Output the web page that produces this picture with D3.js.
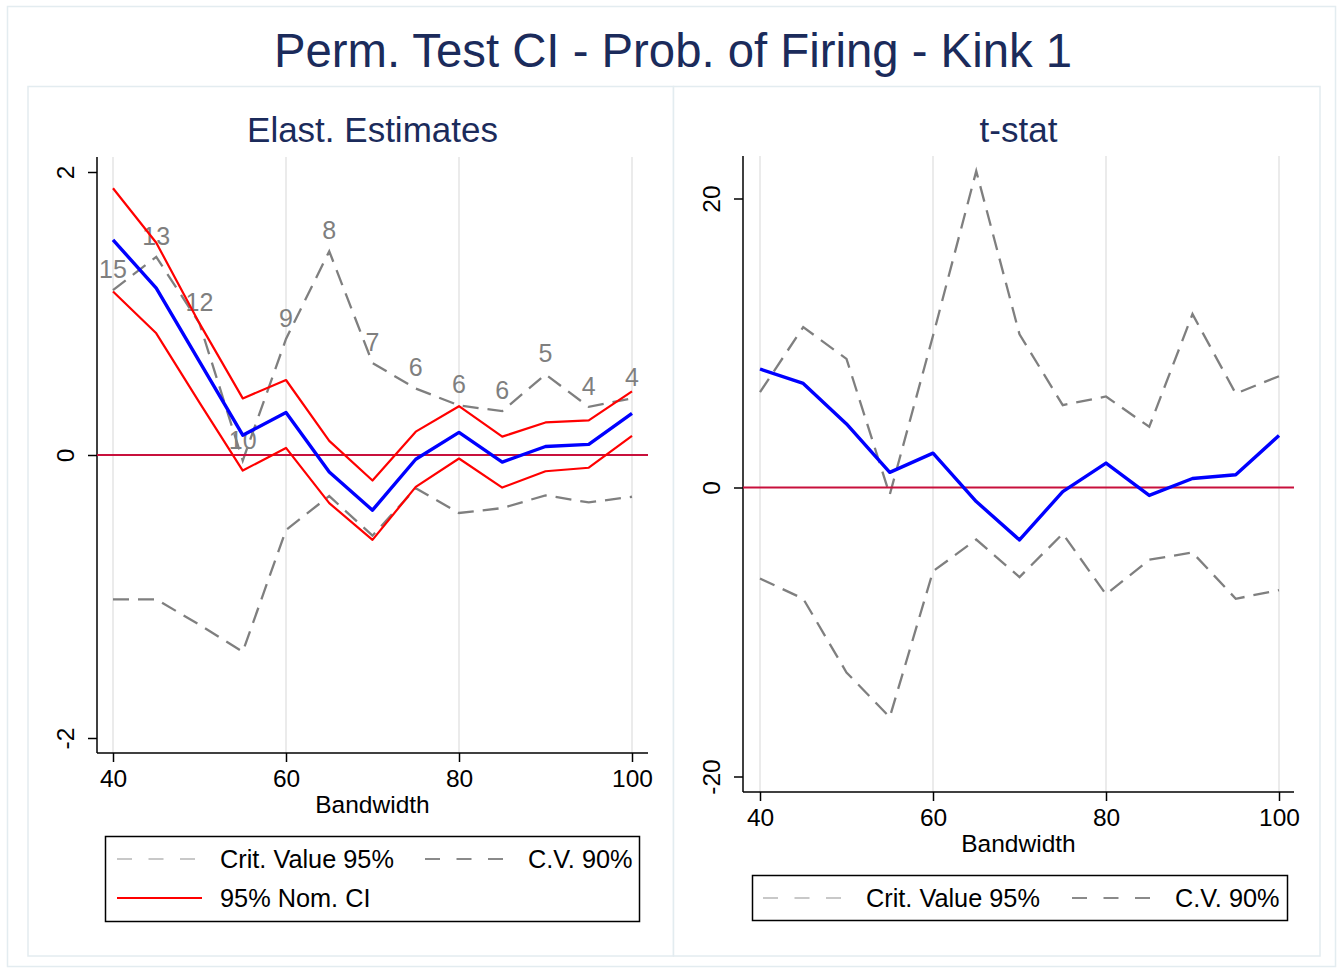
<!DOCTYPE html>
<html>
<head>
<meta charset="utf-8">
<script src="https://cdn.jsdelivr.net/npm/d3@7"></script>
<style>
  html, body { margin: 0; padding: 0; background: #ffffff; }
  svg { display: block; font-family: "Liberation Sans", Arial, sans-serif; }
</style>
</head>
<body>
<svg id="chart" width="1343" height="973"></svg>
<script>
// ---------------- DATA ----------------
const bandwidth = [40, 45, 50, 55, 60, 65, 70, 75, 80, 85, 90, 95, 100];

// Left panel: elasticity estimates
const elastEst   = [1.52, 1.18, 0.66, 0.14, 0.30, -0.12, -0.39, -0.03, 0.16, -0.05, 0.06, 0.075, 0.295];
const ciUpper    = [1.885, 1.50, 0.93, 0.40, 0.53, 0.10, -0.18, 0.165, 0.345, 0.13, 0.23, 0.245, 0.45];
const ciLower    = [1.155, 0.86, 0.37, -0.11, 0.05, -0.34, -0.60, -0.225, -0.025, -0.23, -0.115, -0.09, 0.135];
const cvUpperElast = [1.165, 1.40, 0.93, -0.04, 0.82, 1.44, 0.65, 0.47, 0.35, 0.31, 0.57, 0.34, 0.40];
const cvLowerElast = [-1.02, -1.02, -1.20, -1.39, -0.53, -0.29, -0.57, -0.235, -0.41, -0.375, -0.285, -0.335, -0.295];
const pointLabels  = ["15", "13", "12", "10", "9", "8", "7", "6", "6", "6", "5", "4", "4"];

// Right panel: t-stat
const tStat     = [8.2, 7.2, 4.4, 1.05, 2.38, -0.97, -3.63, -0.28, 1.69, -0.55, 0.62, 0.88, 3.6];
const cvUpperT  = [6.6, 11.1, 8.9, -0.5, 10.5, 21.9, 10.6, 5.7, 6.3, 4.2, 12.0, 6.5, 7.7];
const cvLowerT  = [-6.3, -7.7, -12.8, -15.9, -5.8, -3.6, -6.2, -3.2, -7.4, -5.0, -4.5, -7.7, -7.1];

// Tick labels
const xTicks = [40, 60, 80, 100];
const yTicksLeft = [-2, 0, 2];
const yTicksRight = [-20, 0, 20];

const mainTitle = "Perm. Test CI - Prob. of Firing - Kink 1";
const leftTitle = "Elast. Estimates";
const rightTitle = "t-stat";
const xTitle = "Bandwidth";
const legendLabels = ["Crit. Value 95%", "C.V. 90%", "95% Nom. CI"];

// ---------------- STYLE ----------------
const C = {
  frame: "#e3ecf0",
  title: "#1b2b5b",
  grid: "#ebebeb",
  blue: "#0000ff",
  red: "#ff0000",
  zero: "#c8103c",
  dash: "#7f7f7f",
  legLight: "#c8c8c8",
  legDark: "#8a8a8a"
};

const svg = d3.select("#chart");
const fmt = d => String(d);

// outer frame & panels
svg.append("rect").attr("x", 7.5).attr("y", 6.5).attr("width", 1328).attr("height", 960)
  .attr("fill", "#fff").attr("stroke", C.frame).attr("stroke-width", 1.5);
svg.append("rect").attr("x", 28).attr("y", 86.5).attr("width", 645.5).attr("height", 869.5)
  .attr("fill", "#fff").attr("stroke", C.frame).attr("stroke-width", 1.5);
svg.append("rect").attr("x", 673.5).attr("y", 86.5).attr("width", 646.5).attr("height", 869.5)
  .attr("fill", "#fff").attr("stroke", C.frame).attr("stroke-width", 1.5);

svg.append("text").attr("x", 673).attr("y", 67).attr("text-anchor", "middle")
  .attr("font-size", 47.3).attr("fill", C.title).text(mainTitle);

function panel(cfg) {
  const g = svg.append("g");
  const x = d3.scaleLinear().domain([40, 100]).range(cfg.xRange);
  const y = d3.scaleLinear().domain(cfg.yDomain).range(cfg.yRange);
  const [ax0, ax1] = cfg.axisX;
  const [ay0, ay1] = cfg.axisY;

  g.append("text").attr("x", (ax0 + ax1) / 2).attr("y", 142).attr("text-anchor", "middle")
    .attr("font-size", 35).attr("fill", C.title).text(cfg.title);

  g.selectAll(".grid").data(xTicks).enter().append("line")
    .attr("x1", d => x(d)).attr("x2", d => x(d)).attr("y1", ay0).attr("y2", ay1)
    .attr("stroke", C.grid).attr("stroke-width", 2);

  const yAxis = d3.axisLeft(y).tickValues(cfg.yTicks).tickSize(9).tickFormat(fmt);
  const yg = g.append("g").attr("transform", `translate(${ax0},0)`).call(yAxis);
  yg.select(".domain").remove();
  yg.append("line").attr("x1", 0).attr("x2", 0).attr("y1", ay0).attr("y2", ay1)
    .attr("stroke", "#000").attr("stroke-width", 1.5);
  yg.selectAll(".tick line").attr("stroke", "#000").attr("stroke-width", 1.5);
  yg.selectAll(".tick text")
    .attr("transform", "rotate(-90)")
    .attr("x", 0).attr("y", -23.5).attr("dy", null)
    .attr("text-anchor", "middle")
    .attr("font-size", 24.5).attr("font-family", "Liberation Sans, Arial, sans-serif")
    .attr("fill", "#000");

  const xAxis = d3.axisBottom(x).tickValues(xTicks).tickSize(9).tickFormat(fmt);
  const xg = g.append("g").attr("transform", `translate(0,${ay1})`).call(xAxis);
  xg.select(".domain").remove();
  xg.append("line").attr("x1", ax0).attr("x2", ax1).attr("y1", 0).attr("y2", 0)
    .attr("stroke", "#000").attr("stroke-width", 1.5);
  xg.selectAll(".tick line").attr("stroke", "#000").attr("stroke-width", 1.5);
  xg.selectAll(".tick text").attr("y", 33.5).attr("dy", null)
    .attr("font-size", 24.5).attr("font-family", "Liberation Sans, Arial, sans-serif")
    .attr("fill", "#000");

  g.append("text").attr("x", (ax0 + ax1) / 2).attr("y", ay1 + 60).attr("text-anchor", "middle")
    .attr("font-size", 24.5).attr("fill", "#000").text(xTitle);

  const line = vals => d3.line().x((d, i) => x(bandwidth[i])).y(d => y(d))(vals);

  cfg.dashed.forEach(vals => {
    g.append("path").attr("d", line(vals)).attr("fill", "none")
      .attr("stroke", C.dash).attr("stroke-width", 2.3).attr("stroke-dasharray", "16,9");
  });
  if (cfg.labels) {
    g.selectAll(".ptlab").data(cfg.labelVals).enter().append("text")
      .attr("x", (d, i) => x(bandwidth[i])).attr("y", d => y(d) - 12)
      .attr("text-anchor", "middle").attr("font-size", 25).attr("fill", C.dash)
      .text((d, i) => cfg.labels[i]);
  }
  g.append("line").attr("x1", ax0).attr("x2", ax1).attr("y1", y(0)).attr("y2", y(0))
    .attr("stroke", C.zero).attr("stroke-width", 2);
  (cfg.red || []).forEach(vals => {
    g.append("path").attr("d", line(vals)).attr("fill", "none")
      .attr("stroke", C.red).attr("stroke-width", 2.2).attr("stroke-linejoin", "round");
  });
  g.append("path").attr("d", line(cfg.main)).attr("fill", "none")
    .attr("stroke", C.blue).attr("stroke-width", 3.4).attr("stroke-linejoin", "round");
}

panel({
  title: leftTitle,
  xRange: [113, 632], axisX: [97, 648],
  yDomain: [-2, 2], yRange: [738, 172], axisY: [157, 753],
  yTicks: yTicksLeft,
  dashed: [cvUpperElast, cvLowerElast],
  labels: pointLabels, labelVals: cvUpperElast,
  red: [ciUpper, ciLower],
  main: elastEst
});

panel({
  title: rightTitle,
  xRange: [760, 1279], axisX: [743, 1294],
  yDomain: [-20, 20], yRange: [776.5, 198.5], axisY: [156, 792],
  yTicks: yTicksRight,
  dashed: [cvUpperT, cvLowerT],
  main: tStat
});

// ---------------- LEGENDS ----------------
function legendKey(x1, x2, yy, color, dash) {
  const l = svg.append("line").attr("x1", x1).attr("x2", x2).attr("y1", yy).attr("y2", yy)
    .attr("stroke", color).attr("stroke-width", 2.2);
  if (dash) l.attr("stroke-dasharray", dash);
}
function legendText(x, yy, t) {
  svg.append("text").attr("x", x).attr("y", yy).attr("font-size", 25.3).attr("fill", "#000").text(t);
}

svg.append("rect").attr("x", 105.5).attr("y", 836.5).attr("width", 534).attr("height", 85)
  .attr("fill", "#fff").attr("stroke", "#000").attr("stroke-width", 1.5);
legendKey(117, 195, 859, C.legLight, "15,16.5");
legendText(220, 868, legendLabels[0]);
legendKey(425, 503, 859, C.legDark, "15,16.5");
legendText(528, 868, legendLabels[1]);
legendKey(117, 202, 898, C.red, null);
legendText(220, 907, legendLabels[2]);

svg.append("rect").attr("x", 752.5).attr("y", 875.5).attr("width", 535).attr("height", 45)
  .attr("fill", "#fff").attr("stroke", "#000").attr("stroke-width", 1.5);
legendKey(763, 841, 898, C.legLight, "15,16.5");
legendText(866, 907, legendLabels[0]);
legendKey(1072, 1150, 898, C.legDark, "15,16.5");
legendText(1175, 907, legendLabels[1]);
</script>
</body>
</html>
